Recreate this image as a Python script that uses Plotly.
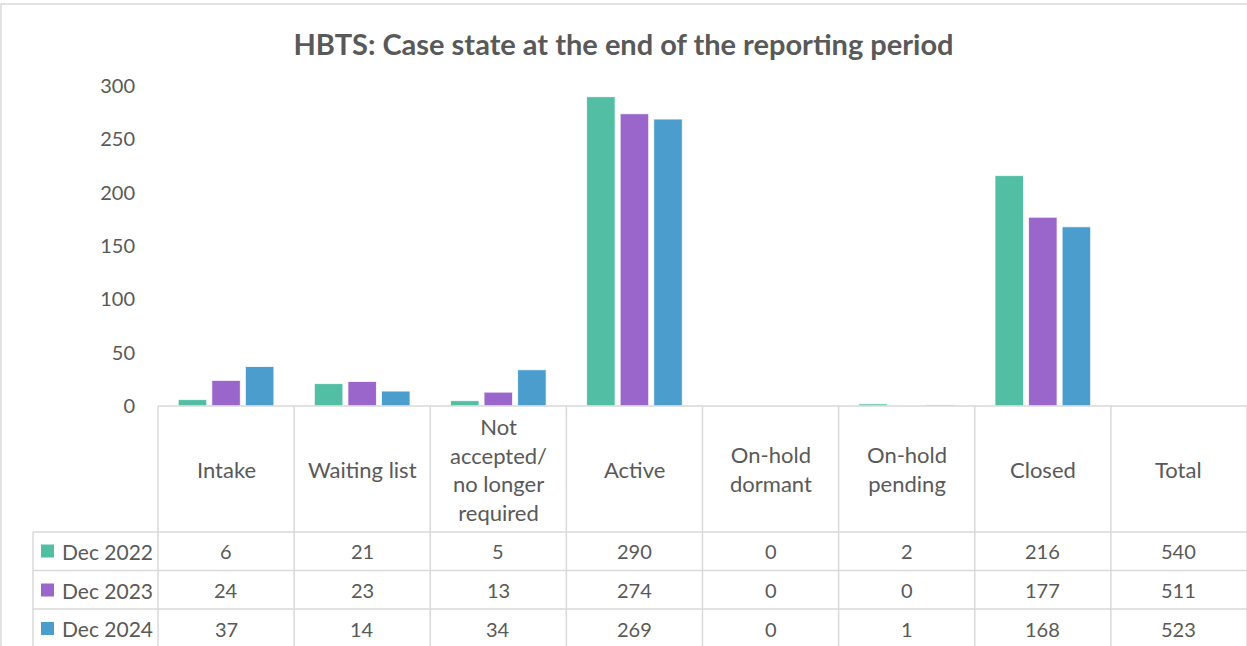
import plotly.graph_objects as go

categories = ["Intake", "Waiting list", "Not<br>accepted/<br>no longer<br>required", "Active",
              "On-hold<br>dormant", "On-hold<br>pending", "Closed", "Total"]
series_names = ["Dec 2022", "Dec 2023", "Dec 2024"]
dec_2022 = [6, 21, 5, 290, 0, 2, 216]
dec_2023 = [24, 23, 13, 274, 0, 0, 177]
dec_2024 = [37, 14, 34, 269, 0, 1, 168]
totals = [540, 511, 523]
colors = ["#52BFA4", "#9A66CB", "#4A9DCC"]
y_ticks = [0, 50, 100, 150, 200, 250, 300]

FONT = "Lato"
TXT = "#595959"
GRID = "#D9D9D9"
W, H = 1247, 646
ML, MT, MB = 158, 86, 240
plot_h = H - MT - MB
plot_w = W - ML

def py(p):
    return (H - MB - p) / plot_h

def px(p):
    return (p - ML) / plot_w

series = [dec_2022, dec_2023, dec_2024]
fig = go.Figure()
for name, vals, c in zip(series_names, series, colors):
    fig.add_trace(go.Bar(x=categories[:len(vals)], y=vals, name=name,
                         marker=dict(color=c, line=dict(color="white", width=0.8)),
                         showlegend=False))

ncat = len(categories)
shapes = []
line = dict(color=GRID, width=1.5)
# chart border
shapes.append(dict(type="rect", xref="paper", yref="paper", x0=px(1), x1=px(1260),
                   y0=py(4), y1=py(660), line=dict(color=GRID, width=1.5)))
# header row top (axis line)
shapes.append(dict(type="line", xref="paper", yref="paper", x0=0, x1=1, y0=0, y1=0, line=line))
row_lines = [532, 570.5, 609, 647.5]
for r in row_lines:
    shapes.append(dict(type="line", xref="paper", yref="paper", x0=px(33), x1=1,
                       y0=py(r), y1=py(r), line=line))
for i in range(ncat + 1):
    xb = i / ncat
    shapes.append(dict(type="line", xref="paper", yref="paper", x0=xb, x1=xb,
                       y0=0, y1=py(650), line=line))
shapes.append(dict(type="line", xref="paper", yref="paper", x0=px(33), x1=px(33),
                   y0=py(532), y1=py(650), line=line))

annotations = []
for c in categories:
    annotations.append(dict(x=c, xref="x", y=py(469), yref="paper", text=c, showarrow=False,
                            font=dict(family=FONT, size=22, color=TXT), align="center",
                            xanchor="center", yanchor="middle"))
row_centers = [551, 590, 628.5]
for k, (name, vals, c) in enumerate(zip(series_names, series, colors)):
    yc = py(row_centers[k])
    full = vals + [totals[k]]
    for cat, v in zip(categories, full):
        annotations.append(dict(x=cat, xref="x", y=yc, yref="paper", text=str(v), showarrow=False,
                                font=dict(family=FONT, size=20, color=TXT),
                                xanchor="center", yanchor="middle"))
    annotations.append(dict(x=px(60), xref="paper", y=yc, yref="paper", text=name, showarrow=False,
                            font=dict(family=FONT, size=21, color=TXT),
                            xanchor="left", yanchor="middle"))
    shapes.append(dict(type="rect", xref="paper", yref="paper", x0=px(41), x1=px(54),
                       y0=yc - 6.5 / plot_h, y1=yc + 6.5 / plot_h,
                       fillcolor=c, line=dict(width=0)))

fig.update_layout(
    width=W, height=H,
    margin=dict(l=ML, r=0, t=MT, b=MB),
    paper_bgcolor="white", plot_bgcolor="white",
    barmode="group", bargap=0.26, bargroupgap=0.15,
    title=dict(text="<b>HBTS: Case state at the end of the reporting period</b>",
               x=0.5, xanchor="center", y=1 - 45 / H, yanchor="middle",
               font=dict(family=FONT, size=29, color=TXT)),
    xaxis=dict(type="category", categoryarray=categories, categoryorder="array",
               range=[-0.5, ncat - 0.5], showticklabels=False, showgrid=False,
               zeroline=False, showline=False),
    yaxis=dict(range=[0, 300], tickvals=y_ticks, showgrid=False, zeroline=False,
               showline=False, ticklabelstandoff=22,
               tickfont=dict(family=FONT, size=20, color=TXT)),
    shapes=shapes, annotations=annotations,
)
fig.write_html("out.html", config={"displayModeBar": False},
               post_script="document.body.style.margin='0';document.body.style.overflow='hidden';")
